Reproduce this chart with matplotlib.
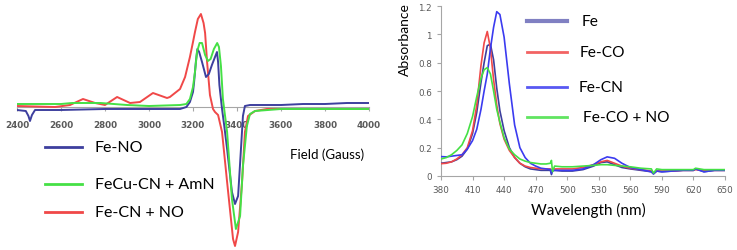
import matplotlib
matplotlib.use("Agg")
import matplotlib.pyplot as plt
from matplotlib.lines import Line2D

W, H = 737, 251

# ---- EPR panel (arbitrary units, baseline 0) ----
fe_no_field = [2400, 2440, 2452, 2459, 2468, 2482, 2600, 2800, 3000, 3141, 3170, 3186, 3200, 3205,
               3213, 3220, 3228, 3241, 3259, 3272, 3286, 3300, 3309, 3314, 3320, 3332, 3341, 3355,
               3377, 3391, 3405, 3418, 3427, 3436, 3459, 3600, 3700, 3800, 3900, 4000]
fe_no = [-3, -4, -9, -14, -8, -3, -3, -2, -2, -2, 0, 5, 15, 25,
         45, 58, 55, 45, 30, 33, 42, 50, 55, 45, 22, -2, -17, -42,
         -85, -97, -89, -42, -9, 1, 2, 2, 3, 3, 4, 4]

fecu_field = [2400, 2600, 2650, 2730, 2780, 2900, 3000, 3141, 3170, 3186, 3200, 3209, 3218, 3230,
              3241, 3255, 3268, 3280, 3295, 3310, 3318, 3327, 3336, 3355, 3377, 3395, 3414, 3427,
              3445, 3459, 3482, 3600, 4000]
fecu_amn = [3, 3, 4, 4, 4, 2, 1, 2, 3, 8, 20, 35, 55, 64,
            64, 52, 46, 48, 58, 64, 60, 41, 8, -25, -92, -122, -109, -59,
            -19, -7, -4, -2, -2]

fecn_field = [2400, 2573, 2641, 2700, 2755, 2800, 2855, 2914, 2959, 3018, 3082, 3095, 3118, 3141,
              3164, 3186, 3200, 3209, 3222, 3236, 3248, 3255, 3264, 3277, 3291, 3300, 3314, 3332,
              3355, 3382, 3391, 3405, 3423, 3436, 3450, 3482, 3536, 4000]
fecn_no = [1, 0, 2, 8, 4, 2, 10, 4, 5, 14, 9, 10, 14, 18,
           30, 50, 65, 75, 88, 93, 84, 74, 45, 12, -2, -5, -8, -25,
           -75, -132, -139, -125, -75, -25, -9, -4, -2, -2]

field_ticks = [2400, 2600, 2800, 3000, 3200, 3400, 3600, 3800, 4000]

# ---- UV-vis panel ----
wl = [380, 385, 390, 395, 400, 405, 410, 414, 418, 421, 424, 427, 430, 433, 436, 440, 445,
      450, 455, 460, 465, 470, 475, 480, 484, 485, 486, 488, 495, 505, 515, 525, 532, 538,
      545, 552, 560, 570, 580, 582, 585, 590, 600, 610, 620, 622, 630, 640, 650]
abs_fe = [0.09, 0.095, 0.10, 0.115, 0.14, 0.19, 0.30, 0.45, 0.66, 0.80, 0.92, 0.93, 0.82, 0.62,
          0.46, 0.32, 0.20, 0.13, 0.09, 0.065, 0.05, 0.045, 0.04, 0.04, 0.04, 0.01, 0.035, 0.04,
          0.035, 0.035, 0.045, 0.07, 0.095, 0.10, 0.08, 0.06, 0.05, 0.04, 0.03, 0.015, 0.035,
          0.03, 0.035, 0.04, 0.04, 0.05, 0.03, 0.04, 0.04]
abs_feco = [0.087, 0.09, 0.10, 0.12, 0.15, 0.20, 0.32, 0.50, 0.78, 0.94, 1.02, 0.90, 0.68, 0.50,
            0.37, 0.26, 0.18, 0.13, 0.09, 0.07, 0.06, 0.055, 0.05, 0.05, 0.05, 0.03, 0.05, 0.05,
            0.05, 0.05, 0.06, 0.08, 0.10, 0.11, 0.09, 0.07, 0.055, 0.045, 0.035, 0.02, 0.035,
            0.035, 0.035, 0.04, 0.04, 0.045, 0.04, 0.04, 0.04]
abs_fecn = [0.137, 0.135, 0.14, 0.145, 0.15, 0.19, 0.25, 0.33, 0.47, 0.60, 0.72, 0.90, 1.05, 1.16,
            1.14, 0.98, 0.65, 0.36, 0.20, 0.13, 0.09, 0.07, 0.055, 0.05, 0.045, 0.02, 0.04, 0.04,
            0.04, 0.04, 0.05, 0.08, 0.115, 0.135, 0.125, 0.09, 0.06, 0.045, 0.03, 0.015, 0.035,
            0.03, 0.035, 0.04, 0.04, 0.05, 0.03, 0.04, 0.04]
abs_feco_no = [0.12, 0.13, 0.15, 0.18, 0.22, 0.30, 0.42, 0.56, 0.69, 0.75, 0.765, 0.72, 0.60, 0.47,
               0.38, 0.27, 0.19, 0.15, 0.12, 0.105, 0.095, 0.09, 0.085, 0.085, 0.09, 0.11, 0.03,
               0.07, 0.065, 0.065, 0.07, 0.075, 0.08, 0.08, 0.075, 0.07, 0.065, 0.055, 0.05, 0.02,
               0.05, 0.045, 0.045, 0.045, 0.045, 0.055, 0.045, 0.045, 0.045]
wl_ticks = [380, 410, 440, 470, 500, 530, 560, 590, 620, 650]
abs_ticks = [0, 0.2, 0.4, 0.6, 0.8, 1, 1.2]
abs_labels = ["0", "0.2", "0.4", "0.6", "0.8", "1", "1.2"]

c_navy = "#3d3f9e"
c_green = "#45e045"
c_red = "#f04848"
c_blue = "#3b3bf0"
c_fe = "#6a6ab8"
grey = "#a6a6a6"
tick_col = "#595959"
font = "Lato"

fig = plt.figure(figsize=(W / 100, H / 100), dpi=100)


def fx(px):
    return px / W


def fy(py):
    return 1 - py / H


# left panel
ax1 = fig.add_axes([fx(17), 0, fx(352), 1])
ax1.plot(fe_no_field, fe_no, color=c_navy, lw=1.4, zorder=3, solid_joinstyle="round")
ax1.plot(fecu_field, fecu_amn, color=c_green, lw=1.4, zorder=3, solid_joinstyle="round")
ax1.plot(fecn_field, fecn_no, color=c_red, lw=1.4, zorder=2.8, solid_joinstyle="round")
ax1.set_xlim(2400, 4000)
ax1.set_ylim(-143, 108)
for s in ["top", "right", "left"]:
    ax1.spines[s].set_visible(False)
ax1.spines["bottom"].set_position(("data", 0))
ax1.spines["bottom"].set_color(grey)
ax1.spines["bottom"].set_zorder(1)
ax1.set_yticks([])
ax1.set_xticks(field_ticks)
ax1.tick_params(axis="x", colors=grey, length=3, pad=6, labelsize=6.3, labelcolor=tick_col)
for lab in ax1.get_xticklabels():
    lab.set_fontweight("bold")
ax1.patch.set_visible(False)

# right panel
ax2 = fig.add_axes([fx(441), fy(177), fx(284), 170 / H])
ax2.plot(wl, abs_fe, color=c_navy, lw=1.2, zorder=3)
ax2.plot(wl, abs_feco, color=c_red, lw=1.2, zorder=3)
ax2.plot(wl, abs_fecn, color=c_blue, lw=1.2, zorder=3)
ax2.plot(wl, abs_feco_no, color=c_green, lw=1.2, zorder=3)
ax2.set_xlim(380, 650)
ax2.set_ylim(0, 1.2)
ax2.set_xticks(wl_ticks)
ax2.set_yticks(abs_ticks)
ax2.set_yticklabels(abs_labels)
for s in ["top", "right"]:
    ax2.spines[s].set_visible(False)
for s in ["left", "bottom"]:
    ax2.spines[s].set_color(grey)
ax2.tick_params(colors=grey, length=3, labelsize=6.3, labelcolor=tick_col)
ax2.patch.set_visible(False)

# labels
fig.text(fx(290), fy(155), "Field (Gauss)", family=font, fontsize=9.5, va="center", ha="left")
fig.text(fx(588), fy(210), "Wavelength (nm)", family=font, fontsize=11, va="center", ha="center")
fig.text(fx(405), fy(40), "Absorbance", family=font, fontsize=10, va="center", ha="center",
         rotation=90)

# legends (drawn by hand at their place in the picture)
left_items = [("Fe-NO", c_navy, 148), ("FeCu-CN + AmN", c_green, 185), ("Fe-CN + NO", c_red, 213)]
for name, col, py in left_items:
    fig.add_artist(Line2D([fx(45), fx(82)], [fy(py), fy(py)], color=col, lw=2))
    fig.text(fx(95), fy(py), name, family=font, fontsize=11.5, va="center", ha="left")

right_items = [("Fe", c_fe, 22, 582, 3), ("Fe-CO", c_red, 53, 580, 2),
               ("Fe-CN", c_blue, 88, 579, 2), ("Fe-CO + NO", c_green, 118, 583, 2)]
for name, col, py, tx, lw in right_items:
    fig.add_artist(Line2D([fx(527), fx(567)], [fy(py), fy(py)], color=col, lw=lw, alpha=0.85))
    fig.text(fx(tx), fy(py), name, family=font, fontsize=11.2, va="center", ha="left")

fig.savefig("out.png", dpi=100)
